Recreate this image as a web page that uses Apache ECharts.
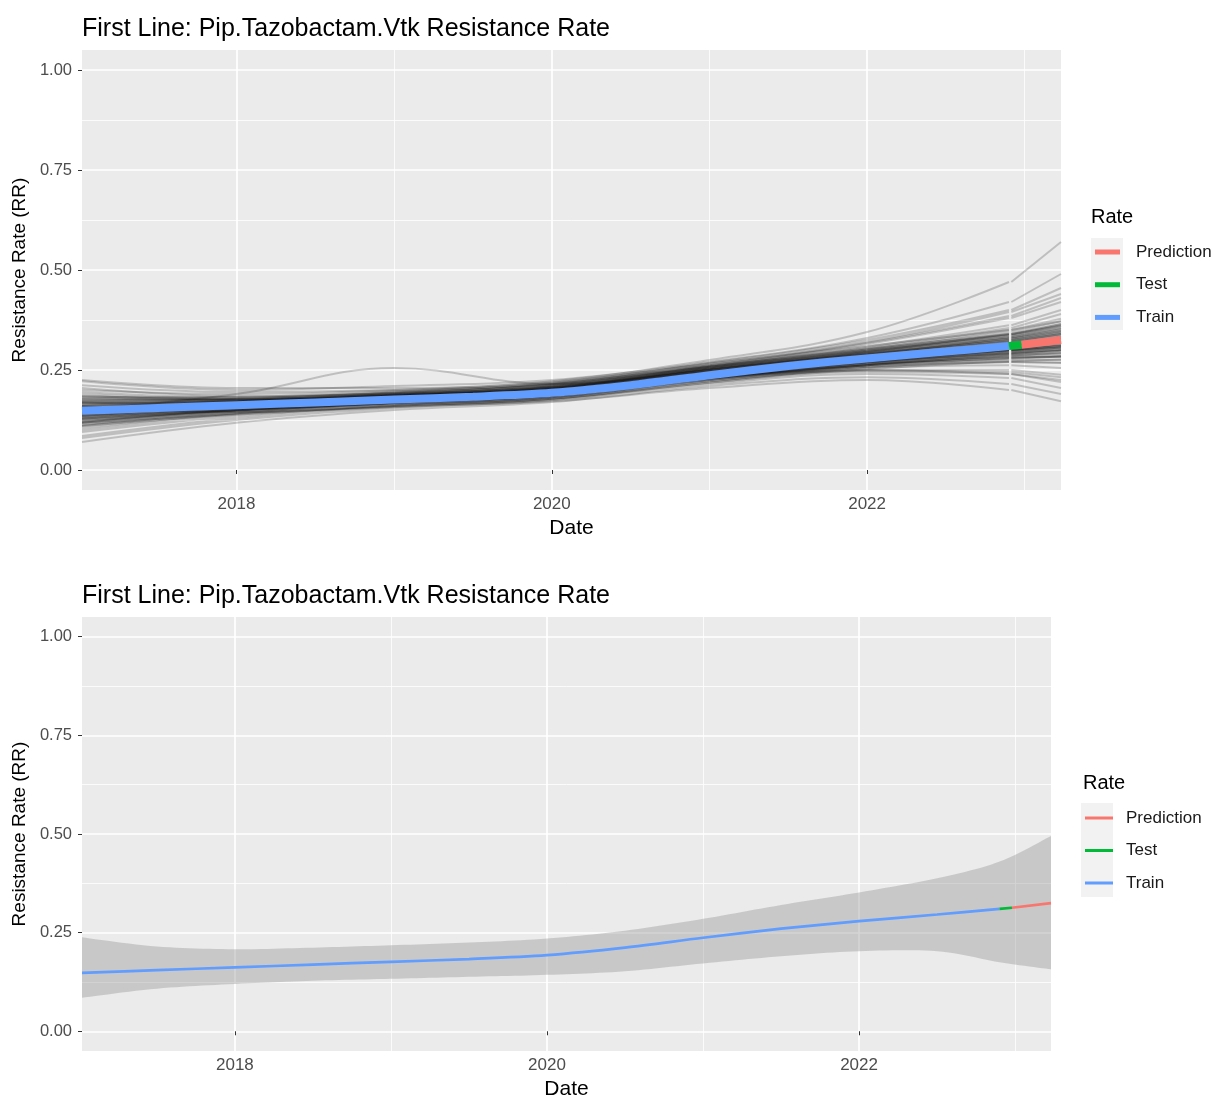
<!DOCTYPE html>
<html><head><meta charset="utf-8">
<script src="https://cdn.jsdelivr.net/npm/echarts@6/dist/echarts.min.js"></script>
<style>html,body{margin:0;padding:0;background:#fff}#c{width:1212px;height:1101px}</style>
</head><body><div id="c"></div>
<script>
const TITLE = 'First Line: Pip.Tazobactam.Vtk Resistance Rate';
const LEGEND_NAMES = ['Prediction', 'Test', 'Train'];
const yTicks = [0, 0.25, 0.5, 0.75, 1];
const yMinorTicks = [0.125, 0.375, 0.625, 0.875];
const xTicks = [2018, 2020, 2022];
const xMinorTicks = [2019, 2021, 2023];

// fitted train / test / prediction line (decimal years)
const trainDates = [2017.02, 2017.5, 2018, 2018.5, 2019, 2019.5, 2020, 2020.5, 2021, 2021.5, 2022, 2022.5, 2022.9];
const trainRate  = [0.148, 0.155, 0.162, 0.169, 0.176, 0.183, 0.193, 0.212, 0.237, 0.260, 0.279, 0.296, 0.310];
const testDates = [2022.9, 2022.98];
const testRate  = [0.310, 0.313];
const predDates = [2022.98, 2023.23];
const predRate  = [0.313, 0.325];

// confidence band (bottom panel)
const bandDates = [2017.02, 2017.5, 2018, 2018.5, 2019, 2019.5, 2020, 2020.5, 2021, 2021.5, 2022, 2022.5, 2022.9, 2023.23];
const bandLower = [0.085, 0.108, 0.120, 0.128, 0.133, 0.138, 0.143, 0.152, 0.172, 0.190, 0.203, 0.203, 0.175, 0.157];
const bandUpper = [0.238, 0.215, 0.208, 0.212, 0.218, 0.225, 0.235, 0.255, 0.285, 0.320, 0.352, 0.388, 0.430, 0.495];

// resampled curves (top panel)
const sampleDates = [2017.02, 2018, 2019, 2020, 2021, 2022, 2022.9];
const sampleTailDates = [2022.915, 2023.23];
const sampleRates = [
  [0.150,0.165,0.180,0.198,0.245,0.282,0.312,0.328],
  [0.132,0.158,0.178,0.195,0.238,0.272,0.300,0.312],
  [0.172,0.170,0.185,0.205,0.252,0.295,0.335,0.360],
  [0.118,0.150,0.172,0.190,0.232,0.262,0.280,0.285],
  [0.190,0.178,0.188,0.210,0.258,0.305,0.355,0.390],
  [0.100,0.140,0.168,0.185,0.228,0.255,0.262,0.255],
  [0.160,0.168,0.182,0.200,0.240,0.278,0.305,0.318],
  [0.140,0.160,0.176,0.192,0.236,0.270,0.295,0.305],
  [0.205,0.185,0.192,0.215,0.262,0.318,0.385,0.430],
  [0.085,0.130,0.160,0.178,0.222,0.245,0.240,0.225],
  [0.155,0.166,0.183,0.202,0.250,0.290,0.325,0.345],
  [0.145,0.162,0.179,0.196,0.242,0.276,0.300,0.310],
  [0.222,0.200,0.210,0.225,0.270,0.330,0.420,0.490],
  [0.070,0.118,0.150,0.170,0.210,0.232,0.215,0.190],
  [0.165,0.172,0.186,0.203,0.247,0.288,0.330,0.352],
  [0.128,0.155,0.175,0.193,0.235,0.268,0.290,0.298],
  [0.180,0.175,0.190,0.208,0.255,0.300,0.345,0.372],
  [0.110,0.145,0.170,0.188,0.230,0.258,0.270,0.268],
  [0.150,0.190,0.255,0.215,0.250,0.295,0.340,0.365],
  [0.135,0.150,0.165,0.182,0.225,0.262,0.285,0.292],
  [0.158,0.168,0.182,0.199,0.244,0.284,0.318,0.335],
  [0.142,0.161,0.178,0.195,0.240,0.274,0.298,0.306],
  [0.195,0.182,0.195,0.218,0.268,0.325,0.400,0.455],
  [0.095,0.135,0.162,0.180,0.226,0.250,0.250,0.238],
  [0.200,0.190,0.200,0.222,0.275,0.345,0.470,0.570],
  [0.120,0.152,0.170,0.186,0.228,0.262,0.275,0.275],
  [0.168,0.172,0.184,0.204,0.250,0.292,0.328,0.348],
  [0.138,0.158,0.176,0.194,0.238,0.270,0.292,0.300],
  [0.185,0.178,0.190,0.210,0.258,0.308,0.362,0.400],
  [0.105,0.142,0.166,0.184,0.225,0.248,0.245,0.232],
  [0.152,0.164,0.181,0.199,0.246,0.282,0.315,0.332],
  [0.146,0.163,0.180,0.197,0.243,0.279,0.306,0.318],
  [0.175,0.176,0.187,0.206,0.254,0.298,0.340,0.365],
  [0.125,0.150,0.168,0.185,0.230,0.265,0.282,0.282],
  [0.160,0.145,0.160,0.178,0.218,0.250,0.240,0.220],
  [0.212,0.195,0.200,0.215,0.260,0.315,0.380,0.420],
  [0.080,0.125,0.155,0.175,0.215,0.240,0.230,0.205],
  [0.148,0.165,0.179,0.200,0.244,0.286,0.320,0.340],
  [0.135,0.160,0.180,0.198,0.242,0.280,0.310,0.322],
  [0.170,0.160,0.175,0.192,0.238,0.272,0.300,0.310],
  [0.115,0.140,0.158,0.172,0.205,0.225,0.200,0.172],
  [0.225,0.205,0.205,0.220,0.265,0.320,0.395,0.440],
  [0.152,0.166,0.181,0.199,0.246,0.284,0.316,0.330],
  [0.138,0.158,0.176,0.193,0.238,0.272,0.298,0.306],
  [0.162,0.170,0.184,0.203,0.250,0.290,0.325,0.343],
  [0.128,0.154,0.173,0.191,0.234,0.267,0.288,0.292],
  [0.176,0.174,0.186,0.206,0.253,0.297,0.338,0.362],
  [0.122,0.150,0.171,0.188,0.231,0.262,0.280,0.283],
  [0.157,0.167,0.182,0.201,0.248,0.288,0.322,0.340],
  [0.143,0.161,0.178,0.195,0.241,0.276,0.304,0.314],
  [0.185,0.176,0.188,0.208,0.256,0.302,0.350,0.378],
  [0.112,0.146,0.168,0.186,0.229,0.258,0.270,0.268],
  [0.150,0.164,0.180,0.197,0.243,0.280,0.310,0.324],
  [0.133,0.156,0.175,0.192,0.236,0.270,0.294,0.300],
  [0.168,0.171,0.184,0.204,0.251,0.293,0.332,0.355],
  [0.118,0.148,0.169,0.187,0.232,0.264,0.284,0.287],
  [0.147,0.163,0.179,0.198,0.245,0.283,0.312,0.328],
  [0.155,0.165,0.178,0.196,0.240,0.276,0.302,0.315],
  [0.160,0.172,0.188,0.207,0.254,0.292,0.324,0.340],
  [0.130,0.150,0.168,0.186,0.232,0.268,0.292,0.302],
  [0.168,0.176,0.192,0.212,0.258,0.298,0.332,0.350],
  [0.124,0.146,0.164,0.182,0.228,0.262,0.286,0.294],
  [0.178,0.180,0.194,0.214,0.262,0.304,0.340,0.360],
  [0.118,0.142,0.160,0.178,0.222,0.256,0.278,0.284],
  [0.155,0.170,0.186,0.205,0.252,0.290,0.320,0.336],
  [0.136,0.153,0.171,0.189,0.234,0.270,0.296,0.306],
  [0.182,0.183,0.197,0.217,0.266,0.310,0.350,0.372],
  [0.110,0.138,0.157,0.175,0.219,0.252,0.272,0.276],
  [0.164,0.174,0.190,0.209,0.256,0.295,0.328,0.346],
  [0.128,0.149,0.166,0.184,0.230,0.265,0.290,0.298],
  [0.172,0.178,0.193,0.213,0.260,0.301,0.336,0.355],
  [0.140,0.156,0.173,0.191,0.237,0.273,0.300,0.310]
];

const X_MIN = 2017.02, X_MAX = 2023.23, Y_MIN = -0.05, Y_MAX = 1.05;
const COLORS = { Train: '#619CFF', Test: '#00BA38', Prediction: '#F8766D' };
const FONT = '"Liberation Sans", Arial, sans-serif';

function zip(xs, ys) { return xs.map((x, i) => [x, ys[i]]); }

function xAxes(gi) {
  return [
    { gridIndex: gi, type: 'value', min: X_MIN, max: X_MAX,
      axisLine: { show: false },
      axisTick: { show: true, customValues: xTicks, length: 4, lineStyle: { color: '#333333', width: 1 } },
      axisLabel: { customValues: xTicks, color: '#4D4D4D', fontSize: 17, margin: 6, fontFamily: FONT,
                   formatter: v => String(Math.round(v)) },
      splitLine: { show: true, lineStyle: { color: '#FFFFFF', width: 1.7 } },
      name: 'Date', nameLocation: 'middle', nameGap: 28,
      nameTextStyle: { fontSize: 21, color: '#000000', fontFamily: FONT } },
    { gridIndex: gi, type: 'value', min: X_MIN, max: X_MAX, position: 'bottom',
      axisLine: { show: false }, axisTick: { show: false, customValues: xMinorTicks },
      axisLabel: { show: false, customValues: xMinorTicks },
      splitLine: { show: true, lineStyle: { color: '#FFFFFF', width: 0.8 } } }
  ];
}
function yAxes(gi) {
  return [
    { gridIndex: gi, type: 'value', min: Y_MIN, max: Y_MAX,
      axisLine: { show: false },
      axisTick: { show: true, customValues: yTicks, length: 4, lineStyle: { color: '#333333', width: 1 } },
      axisLabel: { customValues: yTicks, color: '#4D4D4D', fontSize: 16.5, margin: 10, fontFamily: FONT,
                   formatter: v => v.toFixed(2) },
      splitLine: { show: true, lineStyle: { color: '#FFFFFF', width: 1.7 } },
      name: 'Resistance Rate (RR)', nameLocation: 'middle', nameGap: 47,
      nameTextStyle: { fontSize: 19, color: '#000000', fontFamily: FONT } },
    { gridIndex: gi, type: 'value', min: Y_MIN, max: Y_MAX, position: 'left',
      axisLine: { show: false }, axisTick: { show: false, customValues: yMinorTicks },
      axisLabel: { show: false, customValues: yMinorTicks },
      splitLine: { show: true, lineStyle: { color: '#FFFFFF', width: 0.8 } } }
  ];
}

function line(name, data, color, width, ai, smooth) {
  return {
    type: 'line', name, xAxisIndex: ai, yAxisIndex: ai, data,
    showSymbol: false, symbol: 'none', smooth: smooth, color: color,
    lineStyle: { color, width, cap: 'butt' }, itemStyle: { color },
    emphasis: { disabled: true }, silent: true, animation: false
  };
}

// Catmull-Rom curve through pixel points (render-time smoothing only)
function curve(pts, steps) {
  const out = [], n = pts.length;
  for (let i = 0; i < n - 1; i++) {
    const p0 = pts[Math.max(i - 1, 0)], p1 = pts[i], p2 = pts[i + 1], p3 = pts[Math.min(i + 2, n - 1)];
    for (let s = 0; s < steps; s++) {
      const t = s / steps, t2 = t * t, t3 = t2 * t;
      const f = k => 0.5 * ((2 * p1[k]) + (-p0[k] + p2[k]) * t + (2 * p0[k] - 5 * p1[k] + 4 * p2[k] - p3[k]) * t2 + (-p0[k] + 3 * p1[k] - 3 * p2[k] + p3[k]) * t3);
      out.push([f(0), f(1)]);
    }
  }
  out.push(pts[n - 1]);
  return out;
}

const SAMPLE_COLOR = 'rgba(0,0,0,0.19)';
const series = [];
// top panel: resampled curves
sampleRates.forEach((vals, k) => {
  series.push(line('sample' + k, zip(sampleDates, vals.slice(0, 7)), SAMPLE_COLOR, 2, 0, 0.4));
  series.push(line('sampleTail' + k, zip(sampleTailDates, vals.slice(6, 8)), SAMPLE_COLOR, 2, 0, false));
});
series.push(line('Train', zip(trainDates, trainRate), COLORS.Train, 8, 0, 0.3));
series.push(line('Test', zip(testDates, testRate), COLORS.Test, 8, 0, false));
series.push(line('Prediction', zip(predDates, predRate), COLORS.Prediction, 8, 0, false));

// bottom panel: band
series.push({
  type: 'custom', name: 'band', xAxisIndex: 2, yAxisIndex: 2, silent: true, clip: true, animation: false,
  data: bandDates.map((d, i) => [d, bandLower[i], bandUpper[i]]),
  encode: { x: 0, y: [1, 2] },
  renderItem: function (params, api) {
    if (params.dataIndex !== 0) return null;
    const up = curve(bandDates.map((d, i) => api.coord([d, bandUpper[i]])), 12);
    const lo = curve(bandDates.map((d, i) => api.coord([d, bandLower[i]])), 12).reverse();
    return { type: 'polygon', shape: { points: up.concat(lo) }, style: { fill: 'rgba(153,153,153,0.42)' } };
  }
});
series.push(line('Train', zip(trainDates, trainRate), COLORS.Train, 2.7, 2, 0.3));
series.push(line('Test', zip(testDates, testRate), COLORS.Test, 2.7, 2, false));
series.push(line('Prediction', zip(predDates, predRate), COLORS.Prediction, 2.7, 2, false));

const legendText = { fontSize: 17, color: '#1A1A1A', fontFamily: FONT, lineHeight: 18 };
const titleStyle = { fontSize: 25, fontWeight: 'normal', color: '#000', fontFamily: FONT };
const rateStyle = { fontSize: 20, fontWeight: 'normal', color: '#000', fontFamily: FONT };

const option = {
  animation: false,
  backgroundColor: '#FFFFFF',
  textStyle: { fontFamily: FONT },
  title: [
    { text: TITLE, left: 82, top: 17, padding: 0, textStyle: titleStyle },
    { text: TITLE, left: 82, top: 584, padding: 0, textStyle: titleStyle },
    { text: 'Rate', left: 1091, top: 207, padding: 0, textStyle: rateStyle },
    { text: 'Rate', left: 1083, top: 773, padding: 0, textStyle: rateStyle }
  ],
  graphic: [
    { type: 'rect', z: 0, shape: { x: 1091, y: 238, width: 32, height: 92 }, style: { fill: '#F2F2F2' }, silent: true },
    { type: 'rect', z: 0, shape: { x: 1081, y: 803, width: 32, height: 94 }, style: { fill: '#F2F2F2' }, silent: true }
  ],
  legend: [
    { orient: 'vertical', left: 1095, top: 243, padding: 0, itemWidth: 25, itemHeight: 5, itemGap: 14.7,
      icon: 'rect', data: LEGEND_NAMES, textStyle: Object.assign({ padding: [0, 0, 0, 11] }, legendText), selectedMode: false },
    { orient: 'vertical', left: 1085, top: 809, padding: 0, itemWidth: 28, itemHeight: 3, itemGap: 14.5,
      icon: 'rect', data: LEGEND_NAMES, textStyle: Object.assign({ padding: [0, 0, 0, 8] }, legendText), selectedMode: false }
  ],
  grid: [
    { left: 82, top: 50, width: 979, height: 440, show: true, backgroundColor: '#EBEBEB', borderWidth: 0, containLabel: false },
    { left: 82, top: 617, width: 969, height: 437, show: true, backgroundColor: '#EBEBEB', borderWidth: 0, containLabel: false }
  ],
  xAxis: xAxes(0).concat(xAxes(1)),
  yAxis: yAxes(0).concat(yAxes(1)),
  series: series
};

const chart = echarts.init(document.getElementById('c'), null, { renderer: 'canvas' });
chart.setOption(option);
</script>
</body></html>
